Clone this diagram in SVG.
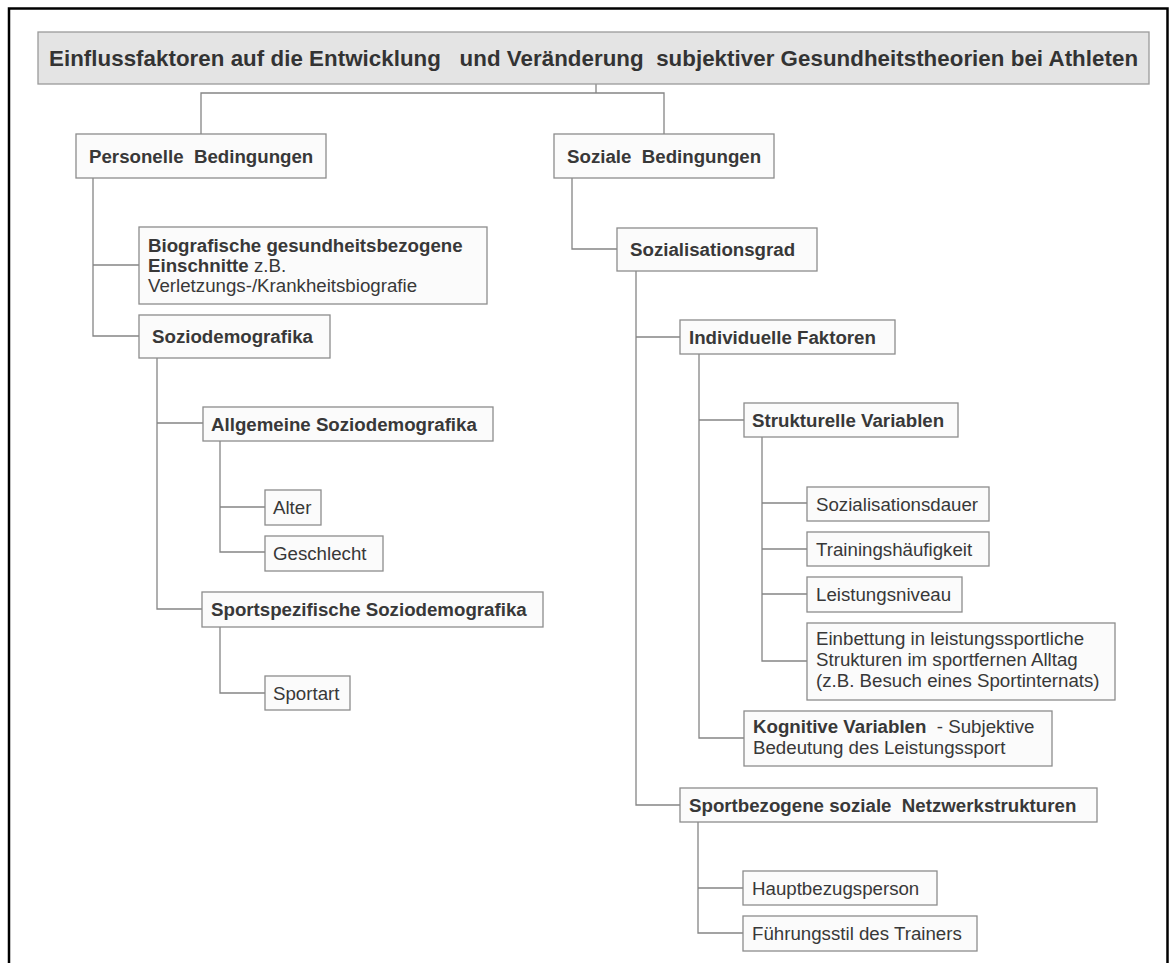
<svg xmlns="http://www.w3.org/2000/svg" width="1169" height="963" viewBox="0 0 1169 963">
<style>
.frame{stroke:#000;stroke-width:2.5;fill:none}
.box{fill:#fbfbfb;stroke:#8c8c8c;stroke-width:1.3}
.tbox{fill:#e4e4e4;stroke:#9a9a9a;stroke-width:1.3}
.con{fill:none;stroke:#858585;stroke-width:1.3}
text{font-family:"Liberation Sans",Arial,sans-serif;font-size:18.7px;fill:#383838;white-space:pre}
.b{font-weight:bold}
.title{font-size:22.3px;font-weight:bold;fill:#333}
</style>
<rect width="1169" height="963" fill="#fff"/>
<path class="frame" d="M9,963 V8.5 H1167.5 V963"/>
<g id="connectors">
<path class="con" d="M596,84 V93 M201,134 V93 H664 V134"/>
<path class="con" d="M93,178 V336 H139 M93,265 H139"/>
<path class="con" d="M157,358 V609 H202 M157,423 H203"/>
<path class="con" d="M220,441 V552 H265 M220,507 H265"/>
<path class="con" d="M220,627 V693 H265"/>
<path class="con" d="M572,178 V249 H617"/>
<path class="con" d="M636,271 V805 H680 M636,337 H680"/>
<path class="con" d="M699,354 V738 H744 M699,420 H744"/>
<path class="con" d="M762,437 V661 H807 M762,503 H807 M762,549 H807 M762,594 H807"/>
<path class="con" d="M698,822 V933 H743 M698,888 H743"/>
</g>
<g id="title"><rect class="tbox" x="38" y="32" width="1111" height="52"/><text class="title" x="49" y="65.5" textLength="1089">Einflussfaktoren auf die Entwicklung   und Veränderung  subjektiver Gesundheitstheorien bei Athleten</text></g>
<g id="personelle"><rect class="box" x="76" y="134" width="250" height="44"/><text class="b" x="89" y="163">Personelle  Bedingungen</text></g>
<g id="soziale"><rect class="box" x="554" y="134" width="220" height="44"/><text class="b" x="567" y="163">Soziale  Bedingungen</text></g>
<g id="biografische"><rect class="box" x="139" y="227" width="348" height="77"/><text x="148" y="252" class="b">Biografische gesundheitsbezogene</text><text x="148" y="272"><tspan class="b">Einschnitte</tspan> z.B.</text><text x="148" y="292">Verletzungs-/Krankheitsbiografie</text></g>
<g id="soziodemografika"><rect class="box" x="139" y="315" width="191" height="43"/><text class="b" x="152" y="343">Soziodemografika</text></g>
<g id="allgemeine"><rect class="box" x="203" y="407" width="290" height="34"/><text class="b" x="211" y="430.6">Allgemeine Soziodemografika</text></g>
<g id="alter"><rect class="box" x="265" y="490" width="56" height="35"/><text x="273" y="514">Alter</text></g>
<g id="geschlecht"><rect class="box" x="265" y="536" width="118" height="35"/><text x="273" y="560">Geschlecht</text></g>
<g id="sportspezifische"><rect class="box" x="202" y="592" width="341" height="35"/><text class="b" x="211" y="616">Sportspezifische Soziodemografika</text></g>
<g id="sportart"><rect class="box" x="265" y="676" width="85" height="34"/><text x="273" y="699.5">Sportart</text></g>
<g id="sozialisationsgrad"><rect class="box" x="617" y="228" width="200" height="43"/><text class="b" x="630" y="256">Sozialisationsgrad</text></g>
<g id="individuelle"><rect class="box" x="680" y="320" width="215" height="34"/><text class="b" x="689" y="343.6">Individuelle Faktoren</text></g>
<g id="strukturelle"><rect class="box" x="744" y="403" width="214" height="34"/><text class="b" x="752" y="426.6">Strukturelle Variablen</text></g>
<g id="sozialisationsdauer"><rect class="box" x="807" y="487" width="182" height="34"/><text x="816" y="510.6">Sozialisationsdauer</text></g>
<g id="trainingshaeufigkeit"><rect class="box" x="807" y="532" width="182" height="34"/><text x="816" y="555.6">Trainingshäufigkeit</text></g>
<g id="leistungsniveau"><rect class="box" x="807" y="577" width="155" height="35"/><text x="816" y="601">Leistungsniveau</text></g>
<g id="einbettung"><rect class="box" x="807" y="623" width="308" height="77"/><text x="816" y="645">Einbettung in leistungssportliche</text><text x="816" y="666">Strukturen im sportfernen Alltag</text><text x="816" y="687">(z.B. Besuch eines Sportinternats)</text></g>
<g id="kognitive"><rect class="box" x="744" y="711" width="308" height="55"/><text x="753" y="733"><tspan class="b">Kognitive Variablen</tspan>  - Subjektive</text><text x="753" y="754">Bedeutung des Leistungssport</text></g>
<g id="sportbezogene"><rect class="box" x="680" y="788" width="417" height="34"/><text class="b" x="689" y="811.6">Sportbezogene soziale  Netzwerkstrukturen</text></g>
<g id="hauptbezugsperson"><rect class="box" x="743" y="871" width="194" height="34"/><text x="752" y="894.6">Hauptbezugsperson</text></g>
<g id="fuehrungsstil"><rect class="box" x="743" y="916" width="234" height="35"/><text x="752" y="940">Führungsstil des Trainers</text></g>
</svg>
